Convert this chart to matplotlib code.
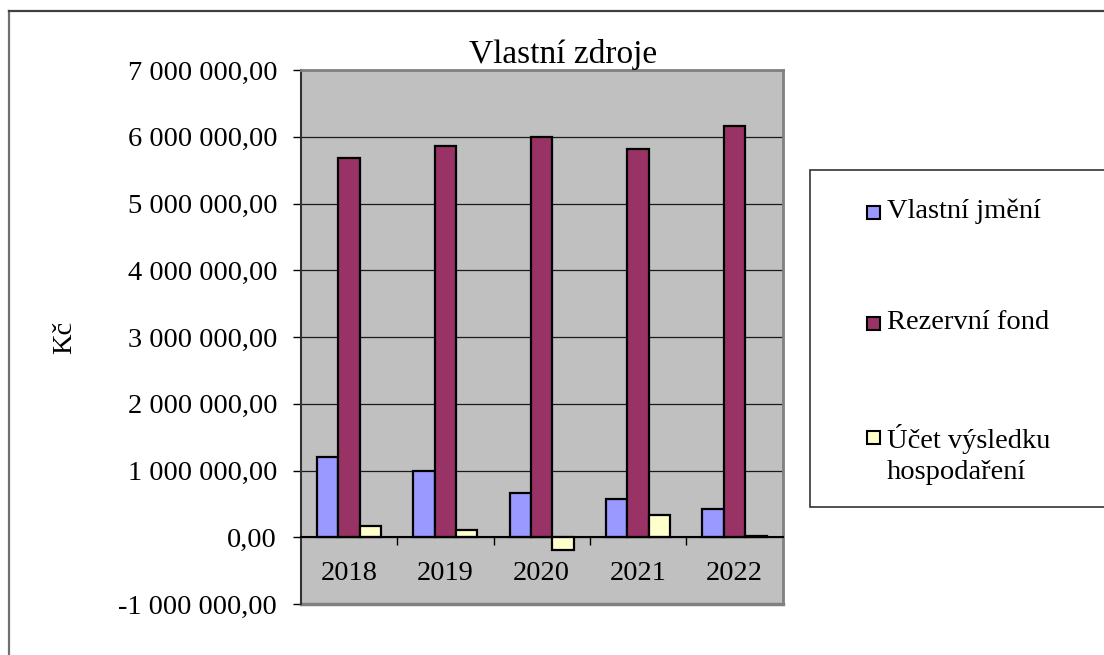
import matplotlib.pyplot as plt
import numpy as np
from matplotlib.lines import Line2D
from matplotlib.patches import Rectangle
from matplotlib.ticker import FuncFormatter, MultipleLocator

years = ["2018", "2019", "2020", "2021", "2022"]
vlastni_jmeni = [1206000, 990000, 668000, 578000, 417000]
rezervni_fond = [5685000, 5865000, 5990000, 5810000, 6165000]
ucet_vysledku = [165000, 110000, -185000, 336000, 18000]

series_names = ["Vlastní jmění", "Rezervní fond", "Účet výsledku\nhospodaření"]
series_colors = ["#9999FF", "#993366", "#FFFFCC"]

W, H = 1104, 655


def fx(px):
    return px / W


def fy(py):
    return 1 - py / H


def czech_money(v, _pos=None):
    return f"{v:,.2f}".replace(",", " ").replace(".", ",")


plt.rcParams["font.family"] = ["Liberation Serif", "DejaVu Serif"]
fs = 20.5

fig = plt.figure(figsize=(W / 100, H / 100), dpi=100)
ax = fig.add_axes([fx(300.7), fy(604), fx(782.7) - fx(300.7), fy(70) - fy(604)])
ax.set_facecolor("#C0C0C0")

x = np.arange(len(years))
bw = 0.222
for i, (vals, color) in enumerate(zip([vlastni_jmeni, rezervni_fond, ucet_vysledku], series_colors)):
    ax.bar(x + (i - 1) * bw, vals, width=bw, color=color, edgecolor="black", linewidth=1.6, zorder=3)

ax.set_xlim(-0.5, len(years) - 0.5)
ax.set_ylim(-1_000_000, 7_000_000)
ax.yaxis.set_major_locator(MultipleLocator(1_000_000))
ax.yaxis.set_major_formatter(FuncFormatter(czech_money))
ax.yaxis.grid(True, color="#1a1a1a", linewidth=0.9, zorder=1)
ax.set_axisbelow(True)

ax.set_xticks(x)
ax.set_xticklabels(years)
ax.set_xticks(np.arange(len(years) - 1) + 0.5, minor=True)
ax.tick_params(axis="x", which="major", length=0, pad=17, labelsize=fs)
ax.tick_params(axis="x", which="minor", length=5.5, width=1, direction="out", color="black")
ax.tick_params(axis="y", length=6, width=1, pad=11, labelsize=fs, color="black")

ax.spines["bottom"].set_position(("data", 0))
ax.spines["bottom"].set_color("black")
ax.spines["bottom"].set_linewidth(1.5)
ax.spines["bottom"].set_zorder(4)
ax.spines["left"].set_color("#333333")
ax.spines["left"].set_linewidth(1.5)
for side in ["top", "right"]:
    ax.spines[side].set_color("#808080")
    ax.spines[side].set_linewidth(2)
ax.axhline(-1_000_000, color="#808080", linewidth=2.5, clip_on=False, zorder=2)

fig.text(fx(563), fy(62.7), "Vlastní zdroje", fontsize=24, ha="center", va="baseline")
fig.text(fx(65), fy(337), "Kč", fontsize=fs, rotation=90, ha="center", va="center")

# chart border (left and top visible)
fig.add_artist(Line2D([fx(8.5), fx(8.5)], [fy(11), 0], color="#707070", linewidth=1.6))
fig.add_artist(Line2D([fx(8.5), 1], [fy(11), fy(11)], color="#404040", linewidth=1.6))

# legend box
fig.add_artist(Rectangle((fx(810), fy(507)), fx(300), fy(170) - fy(507), facecolor="white",
                         edgecolor="#333333", linewidth=1.2, transform=fig.transFigure))
square_centers = [212.3, 323.2, 437.2]
label_tops = [199, 310, 424]
for name, color, cy, ty in zip(series_names, series_colors, square_centers, label_tops):
    fig.add_artist(Rectangle((fx(867), fy(cy + 6.5)), fx(13), fy(cy - 6.5) - fy(cy + 6.5),
                             facecolor=color, edgecolor="black", linewidth=1.5, transform=fig.transFigure))
    fig.text(fx(887), fy(ty), name, fontsize=fs, ha="left", va="top", linespacing=1.3)

fig.savefig("out.png", dpi=100)
